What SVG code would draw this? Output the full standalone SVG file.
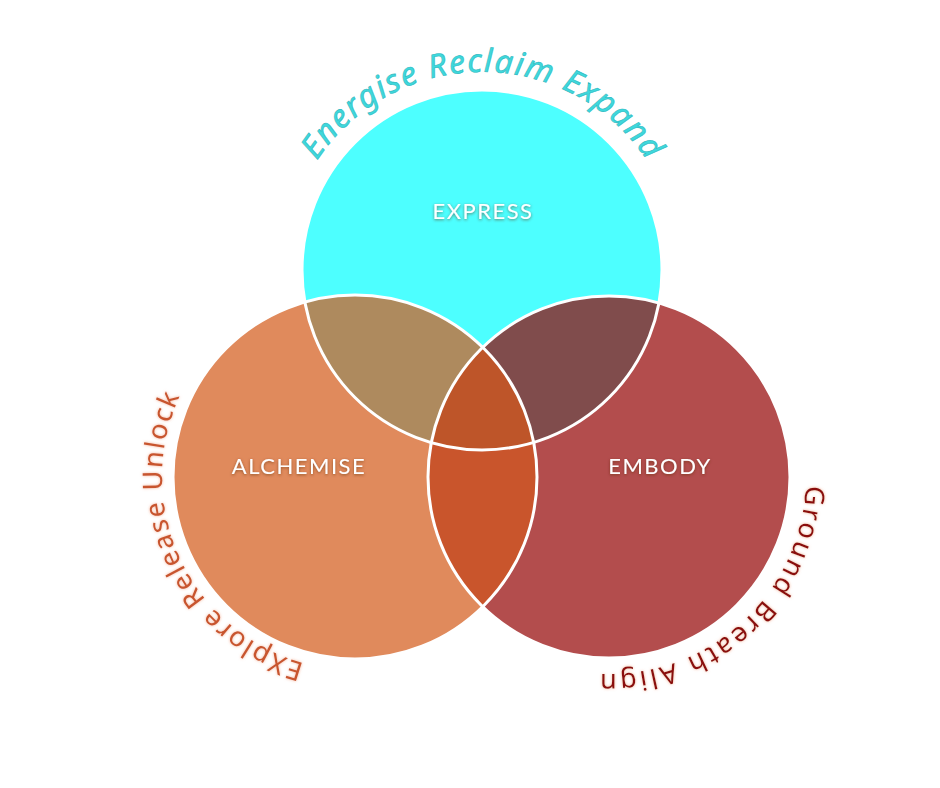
<svg xmlns="http://www.w3.org/2000/svg" xmlns:xlink="http://www.w3.org/1999/xlink" width="940" height="788" viewBox="0 0 940 788">
<defs>
<style>
.lbl{font-family:Lato,"Open Sans",sans-serif;font-size:22px;letter-spacing:1.5px;fill:#fff;text-anchor:middle;filter:url(#sh)}
.arc{font-family:"Noto Sans","DejaVu Sans",sans-serif;text-anchor:middle}
.ring{fill:none;stroke:#fff;stroke-width:3}
</style>
<filter id="sh" x="-20%" y="-50%" width="140%" height="200%"><feDropShadow dx="0" dy="1" stdDeviation="1.5" flood-color="#5a2a10" flood-opacity="0.6"/></filter>
<filter id="glow" x="-10%" y="-10%" width="120%" height="120%"><feDropShadow dx="0" dy="0" stdDeviation="1.5" flood-color="#f2a080" flood-opacity="0.8"/></filter>
<clipPath id="cT"><circle cx="482" cy="270" r="180"/></clipPath>
<clipPath id="cL"><circle cx="355" cy="477" r="182"/></clipPath>
<path id="pT" d="M295.9 202.3 A198 198 0 0 1 668.1 202.3"/>
<path id="pL" d="M338.2 669.3 A193 193 0 0 1 196.9 366.3"/>
<path id="pR" d="M794.1 409.6 A197 197 0 0 1 525.7 655.5"/>
</defs>
<rect width="940" height="788" fill="#fff"/>
<g id="express"><circle cx="482" cy="270" r="180" fill="#4DFFFF"/></g>
<g id="alchemise"><circle cx="355" cy="477" r="182" fill="#E08A5C"/></g>
<g id="embody"><circle cx="609" cy="477" r="181" fill="#B34D4D"/></g>
<g id="overlaps">
<g clip-path="url(#cT)"><circle cx="355" cy="477" r="182" fill="#AE8A5E"/><circle cx="609" cy="477" r="181" fill="#804C4C"/></g>
<g clip-path="url(#cL)"><circle cx="609" cy="477" r="181" fill="#C9552C"/></g>
<g clip-path="url(#cL)"><g clip-path="url(#cT)"><circle cx="609" cy="477" r="181" fill="#BE5529"/></g></g>
</g>
<g id="connectors">
<circle class="ring" cx="482" cy="270" r="180"/>
<circle class="ring" cx="355" cy="477" r="182"/>
<circle class="ring" cx="609" cy="477" r="181"/>
</g>
<text class="lbl" x="483" y="219">EXPRESS</text>
<text class="lbl" x="299" y="474">ALCHEMISE</text>
<text class="lbl" x="660" y="474">EMBODY</text>
<text class="arc" font-size="32" fill="#3ED8DC" stroke="#2FB8C0" stroke-width="0.6" font-style="italic"><textPath xlink:href="#pT" startOffset="50%" textLength="390" lengthAdjust="spacing">Energise Reclaim Expand</textPath></text>
<text class="arc" font-size="27" fill="#C8552E" filter="url(#glow)"><textPath xlink:href="#pL" startOffset="50%" textLength="335" lengthAdjust="spacing">EXplore Release Unlock</textPath></text>
<text class="arc" font-size="27" fill="#8B1010" filter="url(#glow)"><textPath xlink:href="#pR" startOffset="50%" textLength="310" lengthAdjust="spacing">Ground Breath Align</textPath></text>
</svg>
